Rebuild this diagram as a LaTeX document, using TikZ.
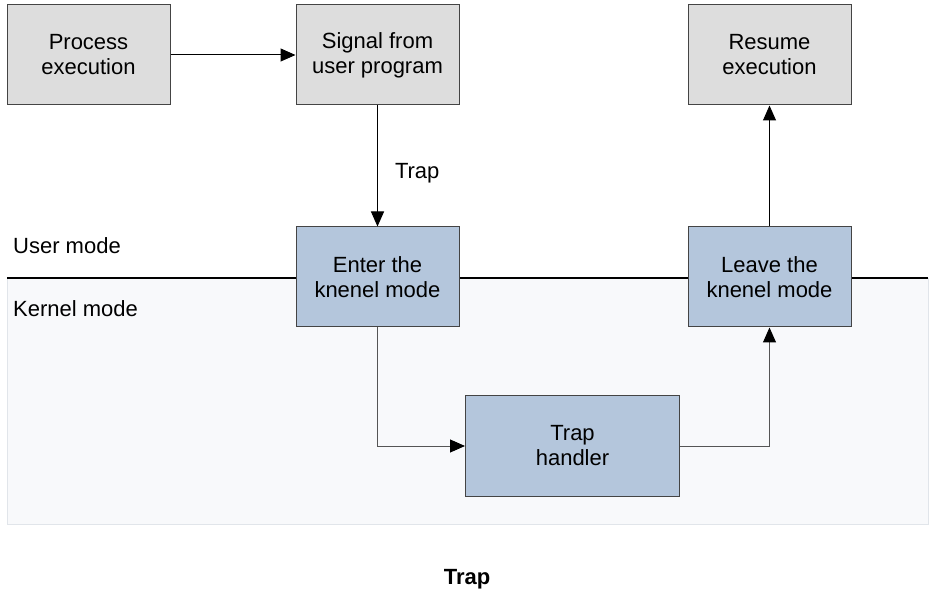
\documentclass[tikz,border=0pt]{standalone}
\usepackage{fontspec}
\setmainfont{Liberation Sans}
\usepackage{tikz}
\usetikzlibrary{arrows.meta,positioning}
\definecolor{userfill}{HTML}{DDDDDD}
\definecolor{kernfill}{HTML}{B4C6DC}
\definecolor{zonefill}{HTML}{F8F9FB}
\definecolor{zoneline}{HTML}{E1E5EA}
\definecolor{boxline}{HTML}{444444}
\definecolor{flowline}{HTML}{555555}

\begin{document}
\begin{tikzpicture}[x=1pt,y=-1pt,>={Triangle[length=15pt,width=13pt,color=black]},
    userbox/.style={draw=boxline,fill=userfill,line width=1pt,minimum width=163pt,
      minimum height=100pt,inner sep=0pt,align=center,font=\fontsize{22}{25}\selectfont},
    kernbox/.style={userbox,fill=kernfill},
    modelabel/.style={anchor=base west,inner sep=0pt,font=\fontsize{22}{25}\selectfont}]
    \useasboundingbox (0,0) rectangle (934,593);
    % kernel zone
    \fill[zonefill,draw=zoneline] (7,278) rectangle (928,524);
    \draw[line width=1.2pt] (7,278) -- (928,278);
    \node[modelabel] (usr) at (13,254) {User mode};
    \node[modelabel] (krn) at (13,317) {Kernel mode};

    \node[userbox] (proc)   at (88.5,55)   {Process\\execution};
    \node[userbox, minimum height=100pt] (signal) at (377.5,55)  {Signal from\\user program};
    \node[userbox] (resume) at (769.5,55)  {Resume\\execution};
    \node[kernbox] (enter)  at (377.5,277) {Enter the\\knenel mode};
    \node[kernbox] (leave)  at (769.5,277) {Leave the\\knenel mode};
    \node[kernbox, minimum width=214pt, minimum height=101pt] (handler) at (572.5,446) {Trap\\handler};

    \path[->,line width=1pt]
    (proc) edge (signal)
    (signal) edge node[pos=0.56,right=17pt,inner sep=0pt,font=\fontsize{22}{25}\selectfont] (traplbl) {Trap} (enter)
    (leave) edge (resume);
    \draw[->,flowline,line width=1pt] (enter.south) |- (handler.west);
    \draw[->,flowline,line width=1pt] (handler.east) -| (leave.south);

    \node[font=\bfseries\fontsize{22}{25}\selectfont] (title) at (467,579) {Trap};
  \end{tikzpicture}
\end{document}
